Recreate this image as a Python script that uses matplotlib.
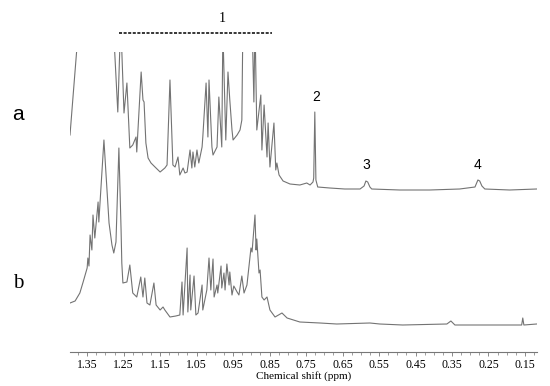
import matplotlib
matplotlib.use("Agg")
import matplotlib.pyplot as plt
from matplotlib.ticker import FixedLocator, MultipleLocator

# spectrum a (upper trace), intensity above its own baseline
ppm_a = [1.397, 1.389, 1.372, 1.323, 1.279, 1.266, 1.258, 1.249, 1.241, 1.233,
         1.225, 1.216, 1.214, 1.202, 1.197, 1.194, 1.189, 1.183, 1.175, 1.164,
         1.150, 1.137, 1.131, 1.123, 1.115, 1.109, 1.101, 1.096, 1.087, 1.082,
         1.076, 1.068, 1.063, 1.060, 1.055, 1.049, 1.044, 1.035, 1.033, 1.024,
         1.019, 1.016, 1.008, 1.005, 0.994, 0.989, 0.981, 0.978, 0.970, 0.964,
         0.959, 0.953, 0.950, 0.939, 0.931, 0.926, 0.923, 0.909, 0.898, 0.893,
         0.890, 0.885, 0.874, 0.871, 0.865, 0.857, 0.854, 0.849, 0.838, 0.833,
         0.830, 0.824, 0.813, 0.794, 0.767, 0.748, 0.739, 0.731, 0.729, 0.726,
         0.723, 0.718, 0.685, 0.644, 0.602, 0.591, 0.586, 0.581, 0.575, 0.570,
         0.493, 0.411, 0.329, 0.287, 0.279, 0.274, 0.268, 0.260, 0.192, 0.118]
int_a = [54, 91, 169, 249, 169, 77, 169, 76, 106, 41,
         44, 52, 37, 117, 89, 87, 46, 31, 26, 22,
         17, 21, 24, 109, 24, 22, 32, 14, 21, 16,
         17, 39, 21, 37, 22, 39, 26, 42, 52, 106,
         52, 109, 42, 34, 42, 92, 42, 159, 49, 117,
         89, 59, 49, 54, 59, 69, 169, 229, 169, 87,
         169, 59, 94, 39, 84, 32, 66, 22, 66, 19,
         26, 14, 8, 5, 4, 6, 4, 7, 11, 77,
         9, 2, 1, 0, 0, 3, 8, 7, 2, 0,
         -1, -1, 0, 2, 9, 8, 3, 0, -1, 0]

# spectrum b (lower trace)
ppm_b = [1.397, 1.383, 1.370, 1.361, 1.350, 1.348, 1.345, 1.342, 1.337, 1.334,
         1.329, 1.320, 1.318, 1.304, 1.299, 1.290, 1.282, 1.277, 1.271, 1.263,
         1.257, 1.255, 1.252, 1.241, 1.233, 1.225, 1.214, 1.203, 1.197, 1.192,
         1.186, 1.178, 1.167, 1.161, 1.150, 1.142, 1.137, 1.123, 1.107, 1.096,
         1.090, 1.087, 1.076, 1.074, 1.068, 1.066, 1.057, 1.052, 1.046, 1.035,
         1.033, 1.022, 1.016, 1.011, 1.005, 1.002, 0.994, 0.992, 0.983, 0.981,
         0.975, 0.972, 0.967, 0.961, 0.959, 0.953, 0.948, 0.939, 0.934, 0.926,
         0.920, 0.912, 0.901, 0.898, 0.890, 0.887, 0.885, 0.879, 0.876, 0.871,
         0.865, 0.857, 0.849, 0.835, 0.816, 0.802, 0.767, 0.712, 0.666, 0.575,
         0.548, 0.485, 0.364, 0.353, 0.342, 0.211, 0.159, 0.156, 0.153, 0.118]
int_b = [22, 24, 32, 43, 57, 67, 59, 90, 75, 110,
         87, 123, 103, 185, 155, 102, 80, 72, 83, 177,
         95, 62, 42, 43, 60, 32, 28, 48, 28, 47,
         22, 20, 42, 20, 15, 18, 15, 8, 9, 10,
         43, 10, 77, 13, 50, 15, 49, 10, 12, 40,
         15, 35, 67, 35, 66, 28, 40, 32, 59, 37,
         52, 35, 61, 40, 53, 30, 39, 33, 30, 49,
         32, 40, 77, 73, 110, 75, 86, 52, 55, 28,
         25, 28, 15, 8, 12, 7, 3, 2, 1, 2,
         1, 0, 1, 4, 0, 0, 0, 7, 0, 1]

tick_vals = [1.35, 1.25, 1.15, 1.05, 0.95, 0.85, 0.75, 0.65, 0.55, 0.45, 0.35, 0.25, 0.15]
tick_labels = ["1.35", "1.25", "1.15", "1.05", "0.95", "0.85", "0.75", "0.65",
               "0.55", "0.45", "0.35", "0.25", "0.15"]

# numbered signals
peak_labels = ["1", "2", "3", "4"]
peak_ppm = [0.981, 0.723, 0.586, 0.279]
region1 = [1.263, 0.844]

plt.rcParams["font.family"] = "Liberation Serif"

fig = plt.figure(figsize=(5.5, 3.86), dpi=100)
ax = fig.add_axes([70 / 550, 34 / 386, 467 / 550, 300 / 386])

off_a = 163
off_b = 27
ax.plot(ppm_a, [v + off_a for v in int_a], color="#737373", lw=0.8)
ax.plot(ppm_b, [v + off_b for v in int_b], color="#737373", lw=0.8)

ax.set_xlim(1.397, 0.117)
ax.set_ylim(0, 300)

for s in ["left", "right", "top"]:
    ax.spines[s].set_visible(False)
ax.spines["bottom"].set_color("#777777")
ax.spines["bottom"].set_linewidth(0.8)
ax.set_yticks([])
ax.xaxis.set_major_locator(FixedLocator(tick_vals))
ax.set_xticklabels(tick_labels, fontsize=8.5)
ax.xaxis.set_minor_locator(MultipleLocator(0.025))
ax.tick_params(axis="x", which="major", length=3, width=0.6, color="#777777", pad=2)
ax.tick_params(axis="x", which="minor", length=2, width=0.5, color="#777777")
ax.set_xlabel("Chemical shift (ppm)", fontsize=8, labelpad=0)

# region 1 dashed bracket and numbers
ax.plot(region1, [319, 319], color="black", ls=(0, (2, 1)), lw=1.1, clip_on=False)
label_y = [334, 255, 187, 187]
label_family = ["Liberation Serif", "Liberation Sans", "Liberation Sans", "Liberation Sans"]
for lab, x, y, fam in zip(peak_labels, peak_ppm, label_y, label_family):
    ax.text(x, y, lab, fontsize=10, ha="center", va="center", family=fam)

fig.text(18 / 550, 1 - 115 / 386, "a", fontsize=15, ha="center", va="center",
         family="Liberation Sans")
fig.text(18 / 550, 1 - 283 / 386, "b", fontsize=15, ha="center", va="center")

fig.savefig("out.png", dpi=100)
